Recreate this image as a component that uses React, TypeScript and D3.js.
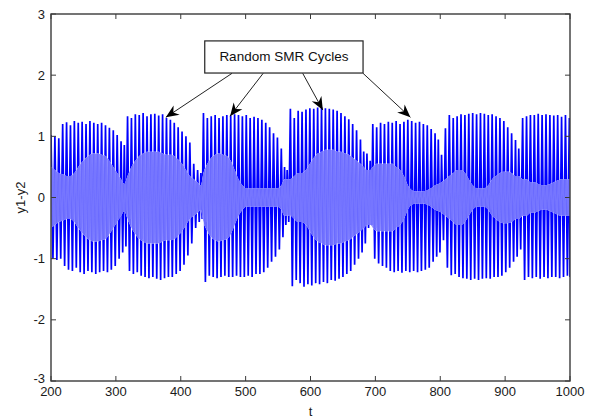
import React from 'react';
import * as d3 from 'd3';

// ---- data: per-cycle peak time, peak max, peak min, amplitude of the inner (faster) band ----
const peakT = [
  200, 206, 212, 218, 224, 230, 236, 242, 248, 254, 260, 266, 272, 278, 284, 290, 296, 302, 308, 313,
  318, 324, 330, 336, 342, 348, 354, 360, 366, 372, 378, 384, 390, 396, 402, 408, 414, 420, 426, 431,
  435, 441, 447, 453, 459, 465, 471, 477, 483, 489, 495, 501, 507, 513, 519, 525, 531, 537, 543, 549, 555, 560, 564,
  569, 575, 581, 587, 593, 599, 605, 611, 617, 623, 629, 635, 641, 647, 653, 659, 665, 671, 677, 682, 687, 692,
  696, 702, 708, 714, 720, 726, 732, 738, 744, 750, 756, 762, 768, 774, 780, 786, 792, 797, 802,
  808, 814, 820, 826, 832, 838, 844, 850, 856, 862, 868, 874, 880, 886, 892, 898, 904, 910, 916, 921,
  927, 933, 939, 945, 951, 957, 963, 969, 975, 981, 987, 993, 999,
];
const peakHi = [
  1.02, 1.0, 0.97, 1.2, 1.23, 1.18, 1.25, 1.22, 1.24, 1.2, 1.25, 1.22, 1.2, 1.22, 1.18, 1.14, 1.1, 1.02, 0.92, 0.86,
  1.33, 1.3, 1.36, 1.35, 1.38, 1.33, 1.36, 1.37, 1.34, 1.36, 1.3, 1.27, 1.22, 1.15, 1.08, 1.0, 0.9, 0.55, 0.45, 0.4,
  1.38, 1.3, 1.33, 1.35, 1.3, 1.33, 1.35, 1.34, 1.36, 1.35, 1.33, 1.35, 1.3, 1.32, 1.3, 1.27, 1.22, 1.15, 1.05, 0.98, 0.8, 0.5, 0.45,
  1.45, 1.3, 1.42, 1.4, 1.44, 1.46, 1.45, 1.47, 1.48, 1.46, 1.45, 1.44, 1.42, 1.38, 1.33, 1.28, 1.2, 1.1, 0.95, 0.75, 0.72, 0.6,
  1.2, 1.15, 1.22, 1.2, 1.24, 1.22, 1.25, 1.2, 1.24, 1.27, 1.25, 1.22, 1.24, 1.2, 1.18, 1.12, 1.05, 0.95, 0.7,
  1.13, 1.35, 1.3, 1.33, 1.36, 1.35, 1.37, 1.38, 1.36, 1.38, 1.37, 1.35, 1.36, 1.33, 1.3, 1.25, 1.15, 1.05, 0.94, 0.8,
  1.3, 1.33, 1.35, 1.35, 1.37, 1.35, 1.36, 1.35, 1.34, 1.35, 1.32, 1.35, 1.3,
];
const peakLo = [
  -1.0, -1.02, -1.0, -1.12, -1.18, -1.2, -1.15, -1.22, -1.25, -1.2, -1.22, -1.25, -1.22, -1.2, -1.22, -1.18, -1.12, -1.0, -0.9, -0.8,
  -1.2, -1.25, -1.22, -1.28, -1.3, -1.32, -1.3, -1.33, -1.35, -1.32, -1.3, -1.3, -1.25, -1.2, -1.1, -0.95, -0.75, -0.5, -0.4, -0.35,
  -1.38, -1.28, -1.3, -1.32, -1.3, -1.28, -1.3, -1.3, -1.28, -1.3, -1.3, -1.28, -1.3, -1.25, -1.25, -1.22, -1.15, -1.05, -0.97, -0.85, -0.65, -0.45, -0.4,
  -1.45, -1.35, -1.4, -1.46, -1.42, -1.44, -1.4, -1.42, -1.38, -1.4, -1.35, -1.36, -1.33, -1.3, -1.25, -1.2, -1.1, -1.0, -0.9, -0.75, -0.5, -0.45,
  -1.0, -1.08, -1.12, -1.15, -1.2, -1.22, -1.2, -1.23, -1.2, -1.22, -1.2, -1.22, -1.2, -1.18, -1.15, -1.05, -0.97, -0.9, -0.7,
  -1.15, -1.27, -1.25, -1.3, -1.32, -1.33, -1.35, -1.33, -1.35, -1.33, -1.32, -1.33, -1.3, -1.3, -1.28, -1.22, -1.15, -1.05, -0.97, -0.85,
  -1.35, -1.3, -1.32, -1.3, -1.33, -1.3, -1.32, -1.3, -1.3, -1.32, -1.3, -1.28, -1.3,
];
const innerAmp = [
  0.5, 0.45, 0.4, 0.38, 0.35, 0.35, 0.4, 0.5, 0.58, 0.65, 0.7, 0.72, 0.72, 0.7, 0.68, 0.6, 0.5, 0.4, 0.3, 0.22,
  0.35, 0.5, 0.6, 0.68, 0.72, 0.75, 0.75, 0.75, 0.75, 0.72, 0.7, 0.7, 0.68, 0.62, 0.55, 0.45, 0.35, 0.3, 0.25, 0.2,
  0.4, 0.55, 0.65, 0.7, 0.72, 0.7, 0.68, 0.6, 0.45, 0.3, 0.2, 0.15, 0.15, 0.15, 0.15, 0.15, 0.15, 0.15, 0.15, 0.15, 0.2, 0.3, 0.3,
  0.3, 0.35, 0.4, 0.4, 0.45, 0.55, 0.65, 0.72, 0.75, 0.78, 0.78, 0.78, 0.75, 0.75, 0.72, 0.7, 0.65, 0.6, 0.55, 0.5, 0.45, 0.45,
  0.5, 0.55, 0.55, 0.55, 0.55, 0.55, 0.5, 0.45, 0.35, 0.2, 0.12, 0.1, 0.1, 0.1, 0.12, 0.15, 0.2, 0.22, 0.25,
  0.3, 0.35, 0.4, 0.45, 0.45, 0.4, 0.3, 0.2, 0.15, 0.15, 0.15, 0.2, 0.3, 0.35, 0.4, 0.42, 0.42, 0.4, 0.35, 0.35,
  0.3, 0.3, 0.25, 0.25, 0.22, 0.2, 0.2, 0.22, 0.25, 0.28, 0.3, 0.3, 0.3,
];

const xTicks = [200, 300, 400, 500, 600, 700, 800, 900, 1000];
const yTicks = [-3, -2, -1, 0, 1, 2, 3];

// annotation
const noteText = 'Random SMR Cycles';
const noteBox = { t0: 437, t1: 681, y0: 2.035, y1: 2.56 };
const arrowFromT = [479, 527, 588, 681];
const arrowFromY = [2.03, 2.03, 2.03, 2.03];
const arrowToT = [377, 476, 619, 754];
const arrowToY = [1.31, 1.33, 1.43, 1.31];

const W = 595, H = 420;
const L = 51, R = 570, T = 14, B = 381;

export default function App() {
  const x = d3.scaleLinear().domain([200, 1000]).range([L, R]);
  const y = d3.scaleLinear().domain([-3, 3]).range([B, T]);

  const n = peakT.length;
  const gap = (i: number) => (i < n - 1 ? peakT[i + 1] - peakT[i] : 2);

  const mainPts: [number, number][] = [];
  const innerPts: [number, number][] = [];
  const band: { t: number; a: number }[] = [];
  for (let i = 0; i < n; i++) {
    const g = gap(i);
    mainPts.push([peakT[i], peakHi[i]]);
    mainPts.push([peakT[i] + g / 2, peakLo[i]]);
    innerPts.push([peakT[i] + g / 4, innerAmp[i]]);
    innerPts.push([peakT[i] + (3 * g) / 4, -innerAmp[i]]);
    band.push({ t: peakT[i], a: innerAmp[i] });
  }
  band.push({ t: 1000, a: innerAmp[n - 1] });

  const line = d3.line<[number, number]>().x((d) => x(d[0])).y((d) => y(d[1]));
  const area = d3
    .area<{ t: number; a: number }>()
    .x((d) => x(d.t))
    .y0((d) => y(-d.a))
    .y1((d) => y(d.a))
    .curve(d3.curveMonotoneX);

  const mainD = line(mainPts) || '';
  const innerD = line(innerPts) || '';
  const bandD = area(band) || '';

  const font = '"Liberation Sans", Arial, Helvetica, sans-serif';
  const axisColor = '#3a3a3a';

  return (
    <svg width={W} height={H} style={{ position: 'absolute', left: 0, top: 0, background: '#fff' }}>
      <defs>
        <clipPath id="plot">
          <rect x={L} y={T} width={R - L} height={B - T} />
        </clipPath>
        <clipPath id="band">
          <path d={bandD} />
        </clipPath>
        <mask id="outside">
          <rect x={0} y={0} width={W} height={H} fill="#fff" />
          <path d={bandD} fill="#000" />
        </mask>
        <marker id="ah" viewBox="-14 -6 16 12" markerWidth={16} markerHeight={12} refX={0} refY={0} orient="auto" markerUnits="userSpaceOnUse">
          <path d="M0,0 L-13,-5.5 L-9,0 L-13,5.5 Z" fill="#000" />
        </marker>
      </defs>
      <rect x={0} y={0} width={W} height={H} fill="#fff" />
      <g clipPath="url(#plot)">
        <g mask="url(#outside)">
          <path d={mainD} fill="none" stroke="#0000ff" strokeWidth={1.7} />
        </g>
        <g clipPath="url(#band)">
          <path d={bandD} fill="#9898ff" stroke="none" />
          <path d={mainD} fill="none" stroke="#6a6aff" strokeWidth={1.8} />
          <path d={innerD} fill="none" stroke="#7676ff" strokeWidth={1.5} />
        </g>
      </g>
      {/* frame */}
      <rect x={L} y={T} width={R - L} height={B - T} fill="none" stroke={axisColor} strokeWidth={1.4} />
      {xTicks.map((t) => (
        <g key={'x' + t}>
          <line x1={x(t)} x2={x(t)} y1={B} y2={B - 5} stroke={axisColor} />
          <line x1={x(t)} x2={x(t)} y1={T} y2={T + 5} stroke={axisColor} />
          <text x={x(t)} y={396} textAnchor="middle" fontFamily={font} fontSize={13} fill="#1a1a1a">
            {t}
          </text>
        </g>
      ))}
      {yTicks.map((v) => (
        <g key={'y' + v}>
          <line x1={L} x2={L + 5} y1={y(v)} y2={y(v)} stroke={axisColor} />
          <line x1={R} x2={R - 5} y1={y(v)} y2={y(v)} stroke={axisColor} />
          <text x={45} y={y(v) + (v === -3 ? 2 : 4.5)} textAnchor="end" fontFamily={font} fontSize={13} fill="#1a1a1a">
            {v}
          </text>
        </g>
      ))}
      <text x={(L + R) / 2} y={416} textAnchor="middle" fontFamily={font} fontSize={13} fill="#1a1a1a">
        t
      </text>
      <text transform={`translate(25,${y(0)}) rotate(-90)`} textAnchor="middle" fontFamily={font} fontSize={13} fill="#1a1a1a">
        y1-y2
      </text>
      {/* annotation */}
      <rect
        x={x(noteBox.t0)}
        y={y(noteBox.y1)}
        width={x(noteBox.t1) - x(noteBox.t0)}
        height={y(noteBox.y0) - y(noteBox.y1)}
        fill="#fff"
        stroke="#222"
        strokeWidth={1.2}
      />
      <text x={(x(noteBox.t0) + x(noteBox.t1)) / 2} y={(y(noteBox.y0) + y(noteBox.y1)) / 2 + 4.5} textAnchor="middle" fontFamily={font} fontSize={13.5} fill="#111">
        {noteText}
      </text>
      {arrowFromT.map((t, i) => (
        <line
          key={'a' + i}
          x1={x(t)}
          y1={y(arrowFromY[i])}
          x2={x(arrowToT[i])}
          y2={y(arrowToY[i])}
          stroke="#222"
          strokeWidth={1}
          markerEnd="url(#ah)"
        />
      ))}
    </svg>
  );
}
